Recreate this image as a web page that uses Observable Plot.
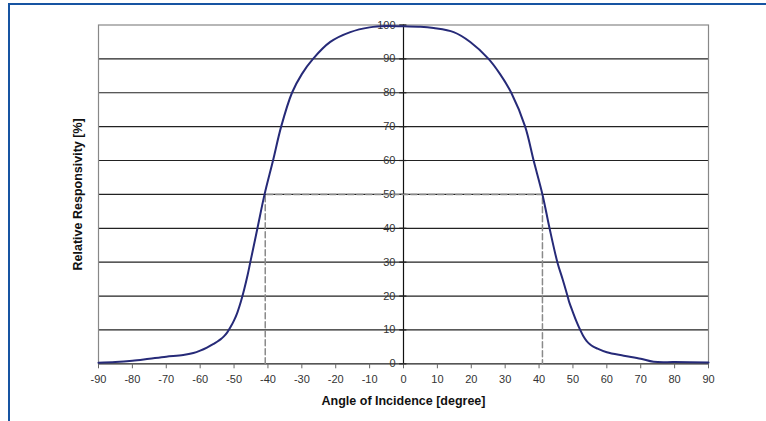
<!DOCTYPE html>
<html><head><meta charset="utf-8">
<script src="https://cdn.jsdelivr.net/npm/d3@7"></script>
<script src="https://cdn.jsdelivr.net/npm/@observablehq/plot@0.6"></script>
<style>
body{margin:0;background:#fff;}
#wrap{position:relative;width:766px;height:421px;overflow:hidden;}
#border{position:absolute;left:8px;top:3px;right:-10px;bottom:-10px;border-top:2px solid #1654a2;border-left:2px solid #1654a2;pointer-events:none;}
</style></head><body><div id="wrap"><div id="border"></div></div>
<script>
const angle = [-90,-85,-80,-75,-70,-65,-62,-60,-58,-56,-55,-54,-53,-52,-51,-50,-49,-48,-47,-46,-45.2,-43.1,-41,-38.5,-36.1,-32.9,-30,-26.7,-21.6,-15.7,-10,-5,0,5,8.9,14.8,19.7,25.1,28.5,31.8,35.9,38.4,41,43.1,45.4,47,48.4,49,50,51,52,53,54,55,56,57,60,65,70,73.8,80,90];
const resp  = [0.3,0.5,0.9,1.5,2.1,2.6,3.2,3.9,4.8,5.9,6.5,7.2,8.1,9.3,10.9,12.8,15.2,18.3,22,26.2,30,40,50,60,70,80,85.5,90,95,97.9,99.3,99.7,99.6,99.5,99.1,97.9,95,90,85.5,80,70,60,50,40,30,24.8,20,17.9,15.2,12.6,10.3,8.3,6.8,5.8,5.1,4.6,3.4,2.4,1.5,0.6,0.5,0.4];
const xTicks = [-90,-80,-70,-60,-50,-40,-30,-20,-10,0,10,20,30,40,50,60,70,80,90];
const yTicks = [0,10,20,30,40,50,60,70,80,90,100];
const gridY = [10,20,30,40,50,60,70,80,90];
const halfX = [-40.8, 41];
const halfLevel = 50;
const xLabel = "Angle of Incidence [degree]";
const yLabel = "Relative Responsivity [%]";

const curve = angle.map((a, i) => ({a, r: resp[i]}));
const halfPath = [
  {x: halfX[0], y: 0}, {x: halfX[0], y: halfLevel},
  {x: halfX[1], y: halfLevel}, {x: halfX[1], y: 0}
];

const plot = Plot.plot({
  width: 766, height: 421,
  marginLeft: 98, marginRight: 58, marginTop: 24.5, marginBottom: 57.7,
  style: {fontFamily: "'Liberation Sans', Arial, sans-serif", background: "transparent"},
  x: {domain: [-90, 90]},
  y: {domain: [0, 100], axis: null},
  marks: [
    Plot.ruleY(gridY, {stroke: "#222", strokeWidth: 1.2}),
    Plot.frame({stroke: "#888", strokeWidth: 1.2}),
    Plot.ruleY([0], {stroke: "#555", strokeWidth: 1.5}),
    Plot.axisX({ticks: xTicks, tickFormat: d => String(d), tickSize: 5, tickPadding: 6, stroke: "#666", fill: "#333", fontSize: 11, label: null}),
    Plot.ruleX([0], {y1: 0, y2: 100, stroke: "#111", strokeWidth: 1.2}),
    Plot.ruleY(yTicks, {x1: -1.1, x2: 1.0, stroke: "#222", strokeWidth: 1.2}),
    Plot.text(yTicks, {x: 0, y: d => d, text: d => String(d), dx: -8, textAnchor: "end", fill: "#333", fontSize: 11}),
    Plot.line(halfPath, {x: "x", y: "y", stroke: "#8a8a8a", strokeDasharray: "6,3", strokeWidth: 1.5}),
    Plot.line(curve, {x: "a", y: "r", stroke: "#262a78", strokeWidth: 2, curve: "catmull-rom"}),
    Plot.text([xLabel], {x: null, frameAnchor: "bottom", lineAnchor: "middle", textAnchor: "middle", dy: 37, text: d => d, fontWeight: "bold", fontSize: 12.5, fill: "#111"}),
    Plot.text([yLabel], {x: null, y: null, frameAnchor: "left", lineAnchor: "middle", textAnchor: "middle", dx: -21, rotate: -90, text: d => d, fontWeight: "bold", fontSize: 12.5, fill: "#111"})
  ]
});
document.getElementById("wrap").prepend(plot);
</script>
</body></html>
